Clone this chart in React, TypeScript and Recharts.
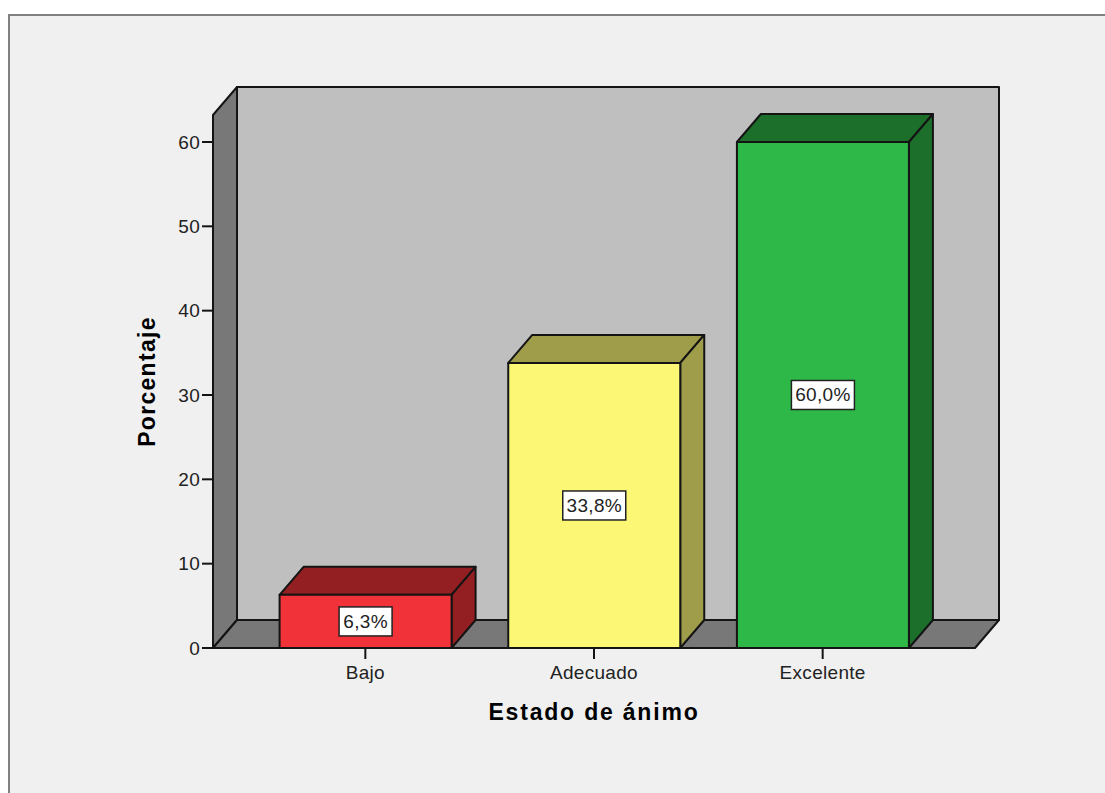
import { BarChart, Bar, XAxis, YAxis, ReferenceArea, LabelList } from "recharts";

const categories = ["Bajo", "Adecuado", "Excelente"];
const percentages = [6.3, 33.8, 60.0];
const yTicks = [0, 10, 20, 30, 40, 50, 60];
const yMax = 63.2;

const frontColors = ["#f13339", "#fcf876", "#2eb848"];
const shadeColors = ["#931f22", "#9f9c4a", "#1c6e2b"];

const chartData = categories.map((name, i) => ({ name, value: percentages[i] }));

const DX = 24;
const DY = 28;
const AXIS_PAD = 38;
const INK = "#141414";

// the reference area stops at the axis padding, so push it back out to the full plot
function Walls({ x: innerX, y, width: innerWidth, height }: any) {
  const x = innerX - AXIS_PAD;
  const width = innerWidth + AXIS_PAD * 2;
  const bottom = y + height;
  const right = x + width;
  return (
    <g stroke={INK} strokeWidth={2} strokeLinejoin="round">
      <rect x={x + DX} y={y - DY} width={width} height={height} fill="#bfbfbf" />
      <polygon
        points={`${x},${bottom} ${x},${y} ${x + DX},${y - DY} ${x + DX},${bottom - DY}`}
        fill="#787878"
      />
      <polygon
        points={`${x},${bottom} ${right},${bottom} ${right + DX},${bottom - DY} ${x + DX},${bottom - DY}`}
        fill="#787878"
      />
    </g>
  );
}

function Box3D({ x, y, width, height, index }: any) {
  const right = x + width;
  const bottom = y + height;
  return (
    <g stroke={INK} strokeWidth={2} strokeLinejoin="round">
      <polygon
        points={`${x},${y} ${x + DX},${y - DY} ${right + DX},${y - DY} ${right},${y}`}
        fill={shadeColors[index]}
      />
      <polygon
        points={`${right},${y} ${right + DX},${y - DY} ${right + DX},${bottom - DY} ${right},${bottom}`}
        fill={shadeColors[index]}
      />
      <rect x={x} y={y} width={width} height={height} fill={frontColors[index]} />
    </g>
  );
}

function ValueTag({ x, y, width, height, value }: any) {
  const cx = x + width / 2;
  const cy = y + height / 2;
  const text = `${Number(value).toFixed(1).replace(".", ",")}%`;
  const half = text.length > 4 ? 31.5 : 26.5;
  return (
    <g>
      <rect x={cx - half} y={cy - 14.5} width={half * 2} height={29} fill="#ffffff" stroke="#222222" strokeWidth={1.5} />
      <text
        x={cx}
        y={cy + 6.5}
        textAnchor="middle"
        fontSize={19}
        letterSpacing={0.3}
        fill="#222222"
        fontFamily="Liberation Sans"
      >
        {text}
      </text>
    </g>
  );
}

const tickStyle = { fill: "#222222", fontSize: 19, letterSpacing: 0.3, fontFamily: "Liberation Sans" };

export default function App() {
  return (
    <div style={{ position: "absolute", left: 0, top: 0, width: 1105, height: 793, overflow: "hidden", background: "#ffffff" }}>
      <div
        style={{
          position: "absolute",
          left: 8,
          top: 14,
          right: 0,
          bottom: 0,
          background: "#f0f0f0",
          borderTop: "2px solid #808080",
          borderLeft: "2px solid #808080",
        }}
      />
      <div style={{ position: "absolute", left: 0, top: 0 }}>
        <BarChart
          width={1105}
          height={793}
          data={chartData}
          margin={{ top: 115, right: 130, left: 0, bottom: 0 }}
          barCategoryGap="12.5%"
        >
          <ReferenceArea y1={0} y2={yMax} shape={Walls} ifOverflow="visible" />
          <XAxis
            dataKey="name"
            height={145}
            padding={{ left: AXIS_PAD, right: AXIS_PAD }}
            tickSize={11}
            tickMargin={7}
            stroke={INK}
            strokeWidth={2}
            tick={tickStyle}
            label={{
              value: "Estado de ánimo",
              position: "insideBottom",
              offset: 73,
              style: { fill: "#000", fontSize: 23, fontWeight: 700, letterSpacing: 1.8, fontFamily: "Liberation Sans" },
            }}
          />
          <YAxis
            width={213}
            domain={[0, yMax]}
            ticks={yTicks}
            interval={0}
            tickSize={11}
            tickMargin={2}
            stroke={INK}
            strokeWidth={2}
            tick={tickStyle}
            label={{
              value: "Porcentaje",
              angle: -90,
              position: "insideLeft",
              offset: 147,
              style: { fill: "#000", fontSize: 23, fontWeight: 700, letterSpacing: 1.3, fontFamily: "Liberation Sans", textAnchor: "middle" },
            }}
          />
          <Bar dataKey="value" shape={Box3D} isAnimationActive={false}>
            <LabelList dataKey="value" content={ValueTag} />
          </Bar>
        </BarChart>
      </div>
    </div>
  );
}
